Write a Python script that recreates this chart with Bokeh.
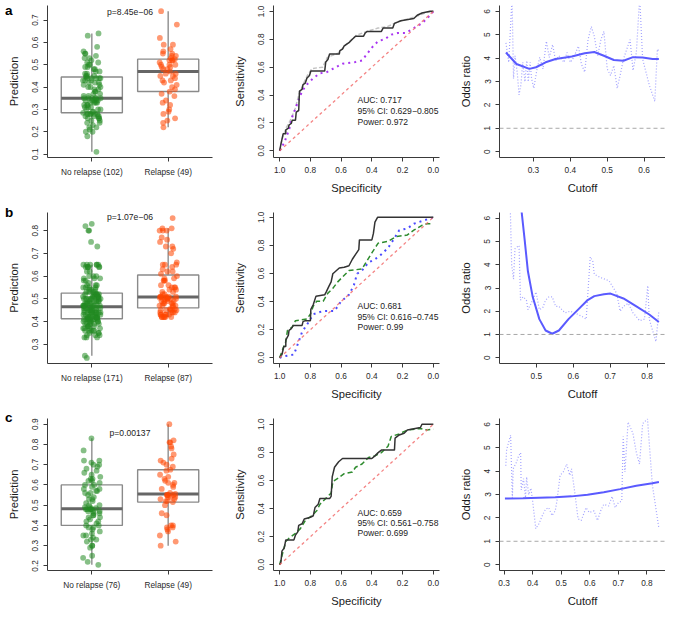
import numpy as np
from bokeh.plotting import figure
from bokeh.models import Range1d, FixedTicker, Label, Span, PrintfTickFormatter, ColumnDataSource, Div
from bokeh.layouts import column, row
from bokeh.transform import jitter
from bokeh.embed import file_html
from bokeh.resources import INLINE

# ======================= DATA =======================
panel_letters = ["a", "b", "c"]

# ---- box plots (predictions per group) ----
a_categories = ["No relapse (102)", "Relapse (49)"]
a_no_relapse = [0.11, 0.18, 0.20, 0.20, 0.21, 0.22, 0.22, 0.23, 0.24, 0.24, 0.25, 0.25, 0.26, 0.26, 0.26,
                0.27, 0.27, 0.27, 0.27, 0.28, 0.28, 0.28, 0.28, 0.28, 0.28,
                0.285, 0.29, 0.29, 0.30, 0.30, 0.30, 0.31, 0.31, 0.31, 0.32, 0.32, 0.32, 0.33, 0.33, 0.33,
                0.33, 0.34, 0.34, 0.34, 0.34, 0.34, 0.35, 0.35, 0.35, 0.35,
                0.35, 0.35, 0.36, 0.36, 0.37, 0.37, 0.38, 0.38, 0.39, 0.39, 0.40, 0.40, 0.40, 0.41, 0.41,
                0.42, 0.42, 0.42, 0.43, 0.43, 0.43, 0.44, 0.44, 0.44, 0.44, 0.44, 0.445,
                0.45, 0.45, 0.45, 0.46, 0.46, 0.47, 0.47, 0.48, 0.48, 0.49, 0.49, 0.50, 0.50, 0.51, 0.51,
                0.52, 0.53, 0.53, 0.54, 0.55, 0.55, 0.56, 0.58, 0.63, 0.64]
a_relapse = [0.22, 0.24, 0.25, 0.26, 0.28, 0.29, 0.30, 0.32, 0.33, 0.34, 0.36, 0.37, 0.38, 0.39, 0.40,
             0.41, 0.42, 0.43, 0.43, 0.44, 0.45, 0.45, 0.46, 0.46, 0.47, 0.48, 0.48, 0.49, 0.49, 0.50,
             0.50, 0.50, 0.51, 0.52, 0.52, 0.52, 0.525, 0.53, 0.54, 0.54, 0.55, 0.55, 0.56, 0.57, 0.59,
             0.59, 0.62, 0.68, 0.74]
a_pvalue = "p=8.45e\u221206"

b_categories = ["No relapse (171)", "Relapse (87)"]
b_no_relapse = [0.24, 0.25, 0.33, 0.33, 0.33, 0.34, 0.34, 0.34, 0.35, 0.35, 0.35, 0.36, 0.36, 0.36, 0.36,
                0.36, 0.37, 0.37, 0.37, 0.37, 0.38, 0.38, 0.38, 0.38, 0.39, 0.39, 0.39, 0.39, 0.39, 0.40,
                0.40, 0.40, 0.40, 0.40, 0.40, 0.41, 0.41, 0.41, 0.41, 0.41, 0.41, 0.41, 0.41,
                0.415, 0.415, 0.415, 0.415, 0.42, 0.42, 0.42, 0.42, 0.42, 0.42, 0.42, 0.42, 0.43, 0.43,
                0.43, 0.43, 0.43, 0.43, 0.44, 0.44, 0.44, 0.44, 0.44, 0.44, 0.44, 0.44, 0.44, 0.44, 0.45,
                0.45, 0.45, 0.45, 0.45, 0.45, 0.45, 0.45, 0.46, 0.46, 0.46, 0.46, 0.46, 0.46,
                0.465,
                0.47, 0.47, 0.47, 0.47, 0.47, 0.47, 0.47, 0.47, 0.48, 0.48, 0.48, 0.48, 0.48, 0.48, 0.49,
                0.49, 0.49, 0.49, 0.49, 0.49, 0.50, 0.50, 0.50, 0.50, 0.50, 0.50, 0.50, 0.50, 0.51, 0.51,
                0.51, 0.51, 0.51, 0.51, 0.51, 0.51, 0.52, 0.52, 0.52, 0.52, 0.52, 0.52,
                0.53, 0.53, 0.53, 0.53, 0.54, 0.54, 0.54, 0.55, 0.55, 0.55, 0.55, 0.56, 0.56, 0.56, 0.57,
                0.58, 0.58, 0.59, 0.59, 0.59, 0.60, 0.60, 0.60, 0.62, 0.62, 0.64, 0.64, 0.64, 0.64, 0.64,
                0.64, 0.65, 0.65, 0.65, 0.65, 0.65, 0.65, 0.73, 0.75, 0.80, 0.80, 0.82, 0.83]
b_relapse = [0.42, 0.42, 0.42, 0.42, 0.42, 0.42, 0.43, 0.43, 0.43, 0.43, 0.43, 0.44, 0.44, 0.44, 0.44,
             0.45, 0.45, 0.45, 0.45, 0.455, 0.455, 0.455,
             0.465, 0.47, 0.47, 0.47, 0.47, 0.48, 0.48, 0.48, 0.48, 0.49, 0.49, 0.49, 0.49, 0.50, 0.50,
             0.50, 0.50, 0.50, 0.505, 0.505, 0.505,
             0.508,
             0.51, 0.51, 0.51, 0.51, 0.52, 0.52, 0.53, 0.53, 0.54, 0.54, 0.55, 0.55, 0.55, 0.56, 0.56,
             0.58, 0.58, 0.58, 0.59, 0.59, 0.60,
             0.61, 0.62, 0.62, 0.63, 0.64, 0.65, 0.65, 0.65, 0.66, 0.70, 0.72, 0.73, 0.73, 0.75, 0.76,
             0.77, 0.80, 0.80, 0.80, 0.81, 0.81, 0.855]
b_pvalue = "p=1.07e\u221206"

c_categories = ["No relapse (76)", "Relapse (49)"]
c_no_relapse = [0.205, 0.22, 0.24, 0.25, 0.29, 0.30, 0.30, 0.32, 0.33, 0.33, 0.34, 0.35, 0.35, 0.36, 0.37,
                0.38, 0.39, 0.39, 0.40,
                0.40, 0.41, 0.42, 0.42, 0.43, 0.44, 0.44, 0.45, 0.45, 0.46, 0.46, 0.47, 0.47, 0.47, 0.48,
                0.48, 0.48, 0.48, 0.48,
                0.485, 0.49, 0.49, 0.50, 0.50, 0.51, 0.52, 0.53, 0.53, 0.54, 0.55, 0.56, 0.56, 0.57, 0.57,
                0.58, 0.58, 0.59, 0.60,
                0.60, 0.61, 0.62, 0.62, 0.63, 0.63, 0.64, 0.65, 0.66, 0.67, 0.68, 0.69, 0.70, 0.70, 0.71,
                0.72, 0.72, 0.77, 0.83]
c_relapse = [0.30, 0.32, 0.35, 0.37, 0.38, 0.39, 0.39, 0.40, 0.40, 0.45, 0.46, 0.50, 0.515,
             0.52, 0.52, 0.53, 0.53, 0.54, 0.54, 0.54, 0.55, 0.55, 0.55, 0.55, 0.555,
             0.56, 0.58, 0.59, 0.60, 0.61, 0.61, 0.62, 0.63, 0.64, 0.65, 0.67, 0.675,
             0.69, 0.70, 0.71, 0.72, 0.73, 0.75, 0.78, 0.79, 0.81, 0.81, 0.82, 0.90]
c_pvalue = "p=0.00137"

# ---- ROC curves (specificity, sensitivity) ----
chance_spec = [1.0, 0.0]
chance_sens = [0.0, 1.0]

a_roc_main_spec = [1.0, 0.992, 0.977, 0.960, 0.960, 0.943, 0.939, 0.924, 0.918, 0.897, 0.892, 0.876, 0.871,
                   0.854, 0.848, 0.833, 0.823, 0.806, 0.797, 0.707, 0.700, 0.686, 0.675, 0.612, 0.608, 0.591,
                   0.580, 0.549, 0.527, 0.506, 0.454, 0.443, 0.432, 0.338, 0.327, 0.264, 0.253, 0.211, 0.127,
                   0.105, 0.074, 0.021, 0.0]
a_roc_main_sens = [0.0, 0.046, 0.123, 0.123, 0.150, 0.162, 0.185, 0.197, 0.220, 0.220, 0.278, 0.289, 0.428,
                   0.440, 0.475, 0.486, 0.520, 0.540, 0.572, 0.572, 0.637, 0.655, 0.694, 0.694, 0.718, 0.729,
                   0.752, 0.775, 0.800, 0.822, 0.822, 0.845, 0.856, 0.856, 0.880, 0.880, 0.914, 0.933, 0.949,
                   0.972, 0.988, 1.0, 1.0]
a_roc_gray_spec = [1.0, 0.985, 0.96, 0.93, 0.90, 0.875, 0.85, 0.82, 0.79, 0.72, 0.69, 0.62, 0.57, 0.50, 0.42,
                   0.36, 0.30, 0.22, 0.12, 0.05, 0.0]
a_roc_gray_sens = [0.0, 0.08, 0.16, 0.22, 0.30, 0.40, 0.47, 0.54, 0.59, 0.60, 0.67, 0.70, 0.76, 0.83, 0.86,
                   0.88, 0.89, 0.93, 0.96, 0.99, 1.0]
a_roc_purple_spec = [1.0, 0.970, 0.939, 0.918, 0.886, 0.854, 0.823, 0.781, 0.738, 0.696, 0.633, 0.591, 0.506,
                     0.464, 0.432, 0.400, 0.359, 0.316, 0.274, 0.232, 0.179, 0.127, 0.074, 0.032, 0.0]
a_roc_purple_sens = [0.0, 0.058, 0.150, 0.243, 0.336, 0.428, 0.475, 0.521, 0.556, 0.563, 0.600, 0.625, 0.637,
                     0.648, 0.694, 0.740, 0.787, 0.800, 0.833, 0.845, 0.845, 0.880, 0.914, 0.960, 1.0]
a_roc_stats = ["AUC: 0.717", "95% CI: 0.629\u22120.805", "Power: 0.972"]

b_roc_main_spec = [1.0, 0.985, 0.973, 0.960, 0.960, 0.943, 0.939, 0.924, 0.911, 0.854, 0.848, 0.833, 0.800,
                   0.797, 0.781, 0.764, 0.707, 0.696, 0.679, 0.665, 0.654, 0.643, 0.612, 0.580, 0.549, 0.527,
                   0.506, 0.485, 0.481, 0.400, 0.390, 0.380, 0.363, 0.0]
b_roc_main_sens = [0.0, 0.023, 0.080, 0.080, 0.126, 0.161, 0.195, 0.207, 0.230, 0.230, 0.257, 0.264, 0.264,
                   0.345, 0.379, 0.437, 0.448, 0.471, 0.510, 0.540, 0.598, 0.609, 0.639, 0.644, 0.655, 0.701,
                   0.736, 0.770, 0.839, 0.839, 0.885, 0.966, 1.0, 1.0]
b_roc_green_spec = [1.0, 0.977, 0.960, 0.949, 0.918, 0.897, 0.823, 0.800, 0.781, 0.759, 0.717, 0.686, 0.654,
                    0.622, 0.591, 0.549, 0.464, 0.432, 0.400, 0.359, 0.295, 0.243, 0.169, 0.127, 0.074, 0.042,
                    0.0]
b_roc_green_sens = [0.0, 0.069, 0.115, 0.195, 0.218, 0.264, 0.276, 0.310, 0.368, 0.402, 0.402, 0.460, 0.494,
                    0.540, 0.575, 0.621, 0.632, 0.690, 0.747, 0.816, 0.828, 0.862, 0.874, 0.908, 0.943, 0.954,
                    0.954]
b_roc_blue_spec = [1.0, 0.970, 0.907, 0.876, 0.854, 0.812, 0.781, 0.717, 0.643, 0.600, 0.549, 0.517, 0.496,
                   0.464, 0.422, 0.380, 0.338, 0.295, 0.253, 0.222, 0.169, 0.127, 0.063, 0.0]
b_roc_blue_sens = [0.0, 0.011, 0.023, 0.115, 0.184, 0.253, 0.310, 0.333, 0.333, 0.402, 0.448, 0.517, 0.598,
                   0.621, 0.678, 0.701, 0.736, 0.782, 0.851, 0.908, 0.920, 0.954, 0.977, 1.0]
b_roc_stats = ["AUC: 0.681", "95% CI: 0.616\u22120.745", "Power: 0.99"]

c_roc_main_spec = [1.0, 0.992, 0.985, 0.970, 0.960, 0.907, 0.897, 0.882, 0.876, 0.854, 0.840, 0.800, 0.781,
                   0.770, 0.749, 0.738, 0.675, 0.665, 0.658, 0.643, 0.616, 0.591, 0.400, 0.380, 0.359, 0.338,
                   0.253, 0.249, 0.222, 0.190, 0.169, 0.084, 0.074, 0.0]
c_roc_main_sens = [0.0, 0.016, 0.097, 0.120, 0.177, 0.177, 0.211, 0.234, 0.280, 0.292, 0.326, 0.338, 0.349,
                   0.407, 0.430, 0.471, 0.471, 0.487, 0.625, 0.694, 0.733, 0.756, 0.756, 0.775, 0.798, 0.816,
                   0.816, 0.901, 0.924, 0.936, 0.959, 0.977, 1.0, 1.0]
c_roc_green_spec = [1.0, 0.977, 0.960, 0.939, 0.897, 0.865, 0.833, 0.791, 0.759, 0.738, 0.696, 0.665, 0.654,
                    0.622, 0.580, 0.527, 0.506, 0.464, 0.422, 0.380, 0.338, 0.295, 0.274, 0.222, 0.169, 0.084,
                    0.042, 0.0]
c_roc_green_sens = [0.0, 0.097, 0.166, 0.189, 0.223, 0.257, 0.315, 0.349, 0.384, 0.430, 0.476, 0.510, 0.591,
                    0.614, 0.648, 0.660, 0.694, 0.717, 0.763, 0.775, 0.798, 0.844, 0.913, 0.931, 0.959, 0.970,
                    0.959, 0.965]
c_roc_stats = ["AUC: 0.659", "95% CI: 0.561\u22120.758", "Power: 0.699"]

# ---- odds ratio vs cutoff ----
or_reference = 1.0
a_or_cut = [0.2255, 0.233, 0.242, 0.246, 0.25, 0.256, 0.261, 0.266, 0.271, 0.277, 0.282, 0.286, 0.291, 0.295,
            0.301, 0.309, 0.317, 0.326, 0.335, 0.343, 0.352, 0.36, 0.369, 0.383, 0.391, 0.40, 0.409, 0.422,
            0.43, 0.439, 0.448, 0.457, 0.465, 0.474, 0.483, 0.491, 0.50, 0.509, 0.518, 0.527, 0.535, 0.544,
            0.553, 0.562, 0.57, 0.579, 0.588, 0.596, 0.614, 0.629, 0.636, 0.64]
a_or_raw = [4.65, 3.82, 6.6, 3.12, 4.1, 3.4, 2.43, 2.85, 3.82, 2.99, 3.89, 2.99, 3.82, 3.12, 2.71, 3.47, 4.03,
            3.54, 4.72, 4.03, 4.58, 3.89, 4.1, 3.82, 4.24, 3.82, 4.03, 4.51, 3.75, 3.4, 4.79, 5.35, 4.93, 4.10,
            4.79, 5.14, 3.54, 3.26, 3.68, 2.71, 3.26, 3.96, 4.38, 4.79, 3.47, 4.24, 6.6, 3.96, 2.85, 2.15, 4.38,
            4.3]
a_or_smooth_cut = [0.2255, 0.254, 0.289, 0.307, 0.333, 0.36, 0.404, 0.439, 0.465, 0.491, 0.518, 0.544, 0.57,
                   0.596, 0.623, 0.64]
a_or_smooth = [4.24, 3.75, 3.54, 3.61, 3.82, 3.96, 4.07, 4.21, 4.26, 4.10, 3.92, 3.89, 4.04, 4.03, 3.96, 3.96]

b_or_cut = [0.429, 0.433, 0.438, 0.442, 0.447, 0.453, 0.457, 0.464, 0.473, 0.477, 0.486, 0.499, 0.508, 0.517,
            0.525, 0.534, 0.543, 0.552, 0.561, 0.569, 0.578, 0.591, 0.604, 0.622, 0.635, 0.646, 0.653, 0.657,
            0.674, 0.697, 0.718, 0.727, 0.736, 0.749, 0.762, 0.78, 0.793, 0.802, 0.806, 0.815, 0.824, 0.832]
b_or_raw = [6.6, 4.0, 3.38, 4.69, 4.76, 4.83, 2.48, 2.62, 2.48, 2.07, 2.34, 2.83, 2.07, 2.14, 2.48, 2.62, 2.62,
            2.21, 2.21, 2.07, 1.93, 2.0, 1.93, 1.79, 1.66, 4.34, 4.14, 3.59, 3.45, 3.31, 2.76, 2.0, 2.21, 2.34,
            1.93, 1.59, 1.66, 3.10, 1.66, 1.17, 0.69, 2.0]
b_or_smooth_cut = [0.455, 0.46, 0.468, 0.477, 0.49, 0.508, 0.525, 0.543, 0.561, 0.587, 0.613, 0.639, 0.657,
                   0.683, 0.701, 0.736, 0.771, 0.806, 0.832]
b_or_smooth = [7.0, 6.28, 5.1, 3.72, 2.62, 1.66, 1.17, 1.03, 1.17, 1.66, 2.07, 2.48, 2.65, 2.73, 2.76, 2.55,
               2.21, 1.86, 1.54]

c_or_cut = [0.306, 0.309, 0.323, 0.329, 0.332, 0.343, 0.351, 0.358, 0.36, 0.368, 0.375, 0.379, 0.386, 0.394,
            0.40, 0.411, 0.422, 0.434, 0.445, 0.456, 0.468, 0.479, 0.485, 0.496, 0.507, 0.519, 0.53, 0.536,
            0.547, 0.559, 0.57, 0.587, 0.598, 0.615, 0.627, 0.638, 0.649, 0.666, 0.678, 0.689, 0.70, 0.712,
            0.717, 0.723, 0.734, 0.751, 0.763, 0.774, 0.785, 0.802, 0.819, 0.842]
c_or_raw = [4.23, 4.92, 5.54, 2.86, 4.1, 4.37, 4.65, 4.79, 3.2, 3.68, 2.86, 3.75, 2.99, 3.27, 2.72, 1.54, 1.75,
            2.10, 2.37, 2.44, 2.10, 2.30, 2.72, 3.82, 3.96, 4.30, 3.82, 4.10, 3.13, 1.96, 1.89, 2.44, 2.23,
            2.30, 1.89, 2.30, 2.58, 2.51, 2.92, 2.44, 2.65, 2.72, 5.48, 3.96, 6.1, 5.61, 4.79, 4.30, 6.03, 6.23,
            3.41, 1.54]
c_or_smooth_cut = [0.303, 0.366, 0.422, 0.479, 0.536, 0.592, 0.649, 0.706, 0.763, 0.819, 0.842]
c_or_smooth = [2.83, 2.84, 2.86, 2.88, 2.92, 2.99, 3.10, 3.23, 3.37, 3.48, 3.53]

# ======================= LAYOUT / STYLE =======================
S = 0.97
def px(v):
    return int(round(v * S))

FONT = "Liberation Sans"
TICK_FS = "8.3px"
TITLE_FS = "11.2px"
AXIS_COL = "#3a3a3a"
ROW_PX = [199, 204, 209]                                     # row heights on the page
COLS = [(48, 170, 7), (56, 171, 3), (59, 171, 0)]           # left border, frame width, right border (ref px)
FRAMES = [(5, 157), (13, 156), (15, 157)]                    # frame top, frame height (ref px)
ROC_YR = [(-0.048, 1.042), (-0.041, 1.034), (-0.041, 1.041)]
OR_XR = [(0.208, 0.658), (0.40, 0.85), (0.284, 0.865)]
OR_XT = [[0.3, 0.4, 0.5, 0.6], [0.5, 0.6, 0.7, 0.8], [0.3, 0.4, 0.5, 0.6, 0.7, 0.8]]
P_Y = [0.735, 0.86, 0.857]
STAT_X = 0.494
STAT_Y = [[0.363, 0.285, 0.208], [0.366, 0.292, 0.22], [0.37, 0.30, 0.227]]
LETTER_TOP = [-1, 201, 406]                                  # page px of the panel letters (top edge)


def make_fig(col, r, xr, yr):
    left, fw, right = COLS[col]
    top, fh = FRAMES[r]
    bottom = ROW_PX[r] - px(top) - px(fh)
    p = figure(x_range=xr, y_range=yr, frame_width=px(fw), frame_height=px(fh),
               min_border_left=px(left), min_border_right=px(right),
               min_border_top=px(top), min_border_bottom=bottom,
               toolbar_location=None, output_backend="svg")
    p.grid.visible = False
    p.outline_line_color = None
    p.background_fill_color = "white"
    p.border_fill_color = "white"
    for ax in (p.xaxis[0], p.yaxis[0]):
        ax.axis_line_color = AXIS_COL
        ax.major_tick_line_color = AXIS_COL
        ax.major_tick_out = 4
        ax.major_tick_in = 0
        ax.minor_tick_line_color = None
        ax.major_label_text_font = FONT
        ax.major_label_text_font_size = TICK_FS
        ax.major_label_text_color = "#2a2a2a"
        ax.axis_label_text_font = FONT
        ax.axis_label_text_font_size = TITLE_FS
        ax.axis_label_text_font_style = "normal"
        ax.axis_label_text_color = "#1a1a1a"
    p.xaxis.major_label_standoff = 5
    p.yaxis.major_label_standoff = 5
    p.yaxis.major_label_orientation = "vertical"
    p.xaxis.axis_label_standoff = 6
    p.yaxis.axis_label_standoff = 10
    return p


def fivenum(v):
    x = np.sort(np.asarray(v, float))
    n = len(x)
    n4 = np.floor((n + 3) / 2) / 2
    d = np.array([1, n4, (n + 1) / 2, n + 1 - n4, n]) - 1
    return 0.5 * (x[np.floor(d).astype(int)] + x[np.ceil(d).astype(int)])


PT_COLORS = ["#228B22", "#FF4500"]


def box_panel(r, cats, groups, ptext):
    allv = np.concatenate([np.asarray(g, float) for g in groups])
    lo, hi = allv.min(), allv.max()
    pad = 0.04 * (hi - lo)
    xr = Range1d(0.42, 2.58)
    yr = Range1d(lo - pad, hi + pad)
    p = make_fig(0, r, xr, yr)
    p.border_fill_alpha = 0
    for i, g in enumerate(groups):
        x0 = i + 1
        arr = np.asarray(g, float)
        q = fivenum(arr)
        iqr = q[3] - q[1]
        whi = arr[arr <= q[3] + 1.5 * iqr].max()
        wlo = arr[arr >= q[1] - 1.5 * iqr].min()
        p.segment(x0=[x0, x0], y0=[q[3], q[1]], x1=[x0, x0], y1=[whi, wlo],
                  line_color="#9c9c9c", line_width=1.6)
        p.quad(left=[x0 - 0.4], right=[x0 + 0.4], bottom=[q[1]], top=[q[3]],
               fill_color=None, line_color="#8a8a8a", line_width=1.4)
        p.segment(x0=[x0 - 0.4], y0=[q[2]], x1=[x0 + 0.4], y1=[q[2]],
                  line_color="#666666", line_width=3)
        src = ColumnDataSource(dict(x=[x0] * len(arr), y=arr))
        p.scatter(x=jitter("x", width=0.23), y="y", source=src, size=5.8,
                  fill_color=PT_COLORS[i], fill_alpha=0.55, line_color=None)
    p.xaxis.ticker = FixedTicker(ticks=[1, 2])
    p.xaxis.major_label_overrides = {1: cats[0], 2: cats[1]}
    t0 = np.ceil((lo - pad) * 10) / 10
    p.yaxis.ticker = FixedTicker(ticks=list(np.round(np.arange(t0, hi + pad, 0.1), 2)))
    p.yaxis.formatter = PrintfTickFormatter(format="%.1f")
    p.yaxis.axis_label = "Prediction"
    p.add_layout(Label(x=1.5, y=P_Y[r], text=ptext, text_align="center", text_baseline="middle",
                       text_font=FONT, text_font_size="8.6px", text_color="#222222"))
    return p


def roc_panel(r, curves, stats):
    p = make_fig(1, r, Range1d(1.04, -0.04), Range1d(*ROC_YR[r]))
    for spec, sens, color, dash, width, alpha in curves:
        p.line(spec, sens, line_color=color, line_dash=dash, line_width=width, line_alpha=alpha)
    p.line(chance_spec, chance_sens, line_color="#f26d6d", line_dash="3 3", line_width=1.3, line_alpha=0.85)
    ticks = [0.0, 0.2, 0.4, 0.6, 0.8, 1.0]
    p.xaxis.ticker = FixedTicker(ticks=ticks)
    p.yaxis.ticker = FixedTicker(ticks=ticks)
    p.xaxis.formatter = PrintfTickFormatter(format="%.1f")
    p.yaxis.formatter = PrintfTickFormatter(format="%.1f")
    p.xaxis.axis_label = "Specificity"
    p.yaxis.axis_label = "Sensitivity"
    for txt, yy in zip(stats, STAT_Y[r]):
        p.add_layout(Label(x=STAT_X, y=yy, text=txt, text_align="left", text_baseline="middle",
                           text_font=FONT, text_font_size="8.6px", text_color="#222222"))
    return p


def or_panel(r, cut, raw, scut, smooth):
    p = make_fig(2, r, Range1d(*OR_XR[r]), Range1d(-0.25, 6.25))
    p.add_layout(Span(location=or_reference, dimension="width", line_color="#a8a8a8",
                      line_dash="4 3", line_width=1))
    p.line(cut, raw, line_color="#8c8cff", line_dash="1 2", line_width=1.2, line_alpha=0.8)
    p.line(scut, smooth, line_color="#5a5aff", line_width=2)
    p.xaxis.ticker = FixedTicker(ticks=OR_XT[r])
    p.yaxis.ticker = FixedTicker(ticks=[0, 1, 2, 3, 4, 5, 6])
    p.xaxis.formatter = PrintfTickFormatter(format="%.1f")
    p.xaxis.axis_label = "Cutoff"
    p.yaxis.axis_label = "Odds ratio"
    return p


MAIN = "#333333"
rows = []
rows.append(row(
    box_panel(0, a_categories, [a_no_relapse, a_relapse], a_pvalue),
    roc_panel(0, [(a_roc_gray_spec, a_roc_gray_sens, "#c4c4c4", "4 2", 1.5, 1.0),
                  (a_roc_purple_spec, a_roc_purple_sens, "#a020f0", "2 4", 2, 0.9),
                  (a_roc_main_spec, a_roc_main_sens, MAIN, "solid", 1.5, 1.0)], a_roc_stats),
    or_panel(0, a_or_cut, a_or_raw, a_or_smooth_cut, a_or_smooth)))
rows.append(row(
    box_panel(1, b_categories, [b_no_relapse, b_relapse], b_pvalue),
    roc_panel(1, [(b_roc_blue_spec, b_roc_blue_sens, "#2a2aff", "2 4", 2, 0.85),
                  (b_roc_green_spec, b_roc_green_sens, "#2e8b2e", "5 3", 1.5, 1.0),
                  (b_roc_main_spec, b_roc_main_sens, MAIN, "solid", 1.5, 1.0)], b_roc_stats),
    or_panel(1, b_or_cut, b_or_raw, b_or_smooth_cut, b_or_smooth)))
rows.append(row(
    box_panel(2, c_categories, [c_no_relapse, c_relapse], c_pvalue),
    roc_panel(2, [(c_roc_green_spec, c_roc_green_sens, "#2e8b2e", "5 3", 1.5, 1.0),
                  (c_roc_main_spec, c_roc_main_sens, MAIN, "solid", 1.5, 1.0)], c_roc_stats),
    or_panel(2, c_or_cut, c_or_raw, c_or_smooth_cut, c_or_smooth)))

# panel letters as an absolutely positioned overlay (takes no room in the layout)
letters_html = "".join(
    '<div style="position:absolute;left:0px;top:%dpx;font-family:\'Liberation Sans\';'
    'font-weight:bold;font-size:13.5px;line-height:14px;color:black;">%s</div>' % (t, l)
    for l, t in zip(panel_letters, LETTER_TOP))
letters = Div(text=letters_html,
              styles={"position": "absolute", "left": "0px", "top": "0px", "z-index": "10",
                      "overflow": "visible", "width": "0px", "height": "0px"})

layout = column(letters, *rows)
open("out.html", "w").write(file_html(layout, INLINE))
